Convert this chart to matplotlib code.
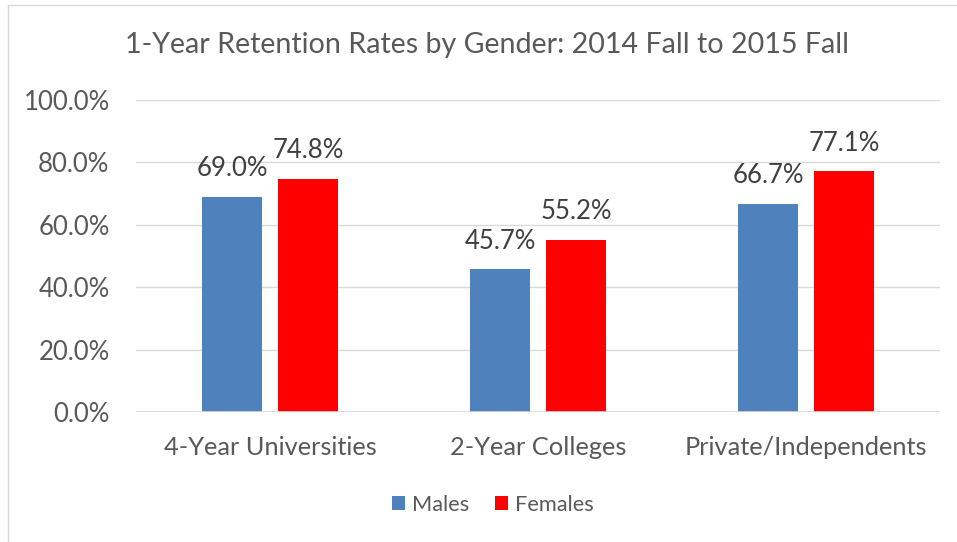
import matplotlib.pyplot as plt
from matplotlib.patches import Rectangle
import numpy as np

categories = ["4-Year Universities", "2-Year Colleges", "Private/Independents"]
males = [69.0, 45.7, 66.7]
females = [74.8, 55.2, 77.1]
yticks = [0, 20, 40, 60, 80, 100]

plt.rcParams['font.family'] = ['Lato', 'DejaVu Sans']
txt = '#595959'

fig = plt.figure(figsize=(9.57, 5.42), dpi=100)
ax = fig.add_axes([136/957, 1-412/542, (940-136)/957, (412-100)/542])

x = np.arange(len(categories))
w = 0.224
off = 0.142
b1 = ax.bar(x - off, males, w, color='#4F81BD', label='Males', zorder=3)
b2 = ax.bar(x + off, females, w, color='#FF0000', label='Females', zorder=3)
for bars, vals in ((b1, males), (b2, females)):
    for r, v in zip(bars, vals):
        ax.text(r.get_x() + r.get_width()/2, v + 5.0, f"{v:.1f}%", ha='center', va='bottom',
                fontsize=18.5, color='#404040')

ax.set_xlim(-0.5, 2.5)
ax.set_ylim(0, 100)
ax.set_yticks(yticks)
ax.set_yticklabels([f"{t:.1f}%" for t in yticks], fontsize=18.5, color=txt)
ax.set_xticks(x)
ax.set_xticklabels(categories, fontsize=18.3, color=txt)
ax.tick_params(length=0)
ax.tick_params(axis='y', pad=19)
ax.tick_params(axis='x', pad=17)
ax.grid(axis='y', color='#D9D9D9', linewidth=1, zorder=0)
for s in ax.spines.values():
    s.set_visible(False)
ax.axhline(0, color='#D9D9D9', linewidth=1.2, zorder=4)

fig.text(487/957, 1-45/542, "1-Year Retention Rates by Gender: 2014 Fall to 2015 Fall",
         ha='center', va='center', fontsize=20.6, color=txt)

fig.legend(handles=[b1, b2], loc='center', bbox_to_anchor=(493/957, 1-505/542), ncol=2,
           frameon=False, fontsize=15.7, labelcolor=txt, handlelength=0.6, handleheight=0.6,
           handletextpad=0.3, columnspacing=1.2)

fig.add_artist(Rectangle((8/957, -0.01), 1.1, 1-5/542+0.01, transform=fig.transFigure,
                         fill=False, edgecolor='#D9D9D9', linewidth=1))

fig.savefig('out.png', dpi=100)
